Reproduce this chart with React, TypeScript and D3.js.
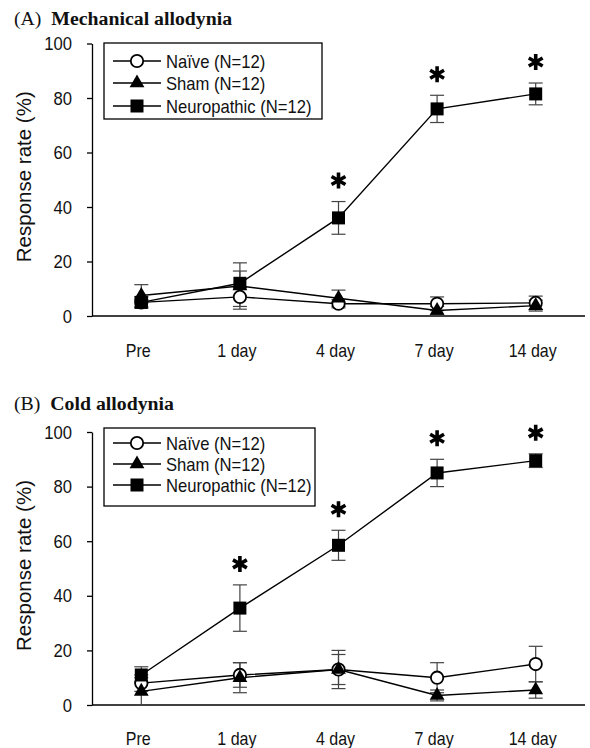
import React, { useRef, useEffect } from 'react';
import * as d3 from 'd3';

const days = ['Pre', '1 day', '4 day', '7 day', '14 day'];
const yTicks = [0, 20, 40, 60, 80, 100];
const groups = ['Naïve (N=12)', 'Sham (N=12)', 'Neuropathic (N=12)'];

// Panel A: mechanical allodynia
const mechNaive = [5, 7, 4.5, 4.5, 4.8];
const mechNaiveErr = [2, 3.5, 1.5, 2.5, 2.5];
const mechSham = [7.5, 11, 6.5, 2, 3.8];
const mechShamErr = [4, 8.5, 3, 1.5, 2];
const mechNeuro = [5, 12, 36, 76, 81.5];
const mechNeuroErr = [2, 4.5, 6, 5, 4];
const mechStars = [false, false, true, true, true];

// Panel B: cold allodynia
const coldNaive = [8, 11, 13, 10, 15];
const coldNaiveErr = [3, 4.5, 7, 5.5, 6.5];
const coldSham = [5, 10, 13, 3.5, 5.5];
const coldShamErr = [5, 5.5, 5.5, 2, 3];
const coldNeuro = [11, 35.5, 58.5, 85, 89.5];
const coldNeuroErr = [3, 8.5, 5.5, 5, 2.5];
const coldStars = [false, true, true, true, true];

type Series = { values: number[]; err: number[]; shape: string };

const App = () => {
    const svgRef = useRef<SVGSVGElement>(null);

    useEffect(() => {
        document.body.style.margin = '0';
        const svg = d3.select(svgRef.current);
        svg.selectAll('*').remove();

        const panels = [
            {
                tag: '(A)', title: 'Mechanical allodynia', titleY: 25,
                top: 43.5, bottom: 316, legend: { x: 104, y: 43, w: 218, h: 76, rows: [61, 83, 106] },
                series: [
                    { values: mechNaive, err: mechNaiveErr, shape: 'circle' },
                    { values: mechSham, err: mechShamErr, shape: 'triangle' },
                    { values: mechNeuro, err: mechNeuroErr, shape: 'square' },
                ] as Series[],
                stars: mechStars, labelY: 357,
            },
            {
                tag: '(B)', title: 'Cold allodynia', titleY: 410,
                top: 432, bottom: 705, legend: { x: 104, y: 428, w: 211, h: 78, rows: [443, 464, 485] },
                series: [
                    { values: coldNaive, err: coldNaiveErr, shape: 'circle' },
                    { values: coldSham, err: coldShamErr, shape: 'triangle' },
                    { values: coldNeuro, err: coldNeuroErr, shape: 'square' },
                ] as Series[],
                stars: coldStars, labelY: 745,
            },
        ];

        const left = 92;
        const right = 585;
        const x = d3.scalePoint().domain(days).range([left, right]).padding(0.5);
        const sans = 'Liberation Sans, Arial, sans-serif';

        // narrow-looking sans text, like the original figure
        const label = (g: any, tx: number, ty: number, str: string, size: number, sx: number, anchor = 'start') =>
            g.append('text').attr('transform', `translate(${tx},${ty}) scale(${sx},1)`)
                .attr('text-anchor', anchor).attr('font-family', sans)
                .attr('font-size', size).attr('fill', '#111').text(str);

        const drawMarker = (g: any, shape: string, cx: number, cy: number) => {
            if (shape === 'circle') {
                g.append('circle').attr('cx', cx).attr('cy', cy).attr('r', 6.2)
                    .attr('fill', '#fff').attr('stroke', '#000').attr('stroke-width', 1.8);
            } else if (shape === 'triangle') {
                g.append('path').attr('transform', `translate(${cx},${cy})`)
                    .attr('d', d3.symbol().type(d3.symbolTriangle).size(95)())
                    .attr('fill', '#000');
            } else {
                g.append('rect').attr('x', cx - 6.5).attr('y', cy - 6.5)
                    .attr('width', 13).attr('height', 13).attr('fill', '#000');
            }
        };

        const drawStar = (g: any, cx: number, cy: number) => {
            const r = 8;
            const p = d3.path();
            [90, 30, -30].forEach(a => {
                const rad = (a * Math.PI) / 180;
                p.moveTo(cx + r * Math.cos(rad), cy - r * Math.sin(rad));
                p.lineTo(cx - r * Math.cos(rad), cy + r * Math.sin(rad));
            });
            g.append('path').attr('d', p.toString()).attr('stroke', '#000')
                .attr('stroke-width', 3.6).attr('fill', 'none');
        };

        panels.forEach(p => {
            const y = d3.scaleLinear().domain([0, 100]).range([p.bottom, p.top]);
            const g = svg.append('g');

            // Title
            const t = g.append('text').attr('x', 14).attr('y', p.titleY)
                .attr('font-family', 'Liberation Serif, Times New Roman, serif')
                .attr('font-size', 19.8).attr('fill', '#111');
            t.append('tspan').text(p.tag + '\u00a0 ');
            t.append('tspan').attr('font-weight', 'bold').text(p.title);

            // Y axis
            g.append('g')
                .attr('transform', `translate(${left},0)`)
                .call(d3.axisLeft(y).tickValues(yTicks).tickSize(5).tickSizeOuter(0).tickFormat(() => ''))
                .call(a => a.select('.domain').attr('stroke-width', 1.3))
                .call(a => a.selectAll('line').attr('stroke-width', 1.3));

            yTicks.forEach(v => label(g, left - 20, y(v) + 6.5, String(v), 18.5, 0.9, 'end'));

            // X axis line
            g.append('line').attr('x1', left).attr('x2', right)
                .attr('y1', p.bottom).attr('y2', p.bottom)
                .attr('stroke', '#000').attr('stroke-width', 1.3);

            days.forEach(d => label(g, x(d)! - 3, p.labelY, d, 18, 0.89, 'middle'));

            // Y label
            g.append('text')
                .attr('transform', `translate(31,${(p.top + p.bottom) / 2 - 3}) rotate(-90)`)
                .attr('text-anchor', 'middle').attr('font-family', sans)
                .attr('font-size', 20.5).attr('fill', '#111').text('Response rate (%)');

            // Error bars
            p.series.forEach(s => {
                s.values.forEach((v, i) => {
                    const cx = x(days[i])!;
                    const hi = y(v + s.err[i]);
                    const lo = y(Math.max(0, v - s.err[i]));
                    const eg = g.append('g').attr('stroke', '#444').attr('stroke-width', 1.2);
                    eg.append('line').attr('x1', cx).attr('x2', cx).attr('y1', hi).attr('y2', lo);
                    eg.append('line').attr('x1', cx - 7).attr('x2', cx + 7).attr('y1', hi).attr('y2', hi);
                    eg.append('line').attr('x1', cx - 7).attr('x2', cx + 7).attr('y1', lo).attr('y2', lo);
                });
            });

            // Lines
            const line = d3.line<number>().x((_, i) => x(days[i])!).y(v => y(v));
            p.series.forEach(s => {
                g.append('path').attr('d', line(s.values)!).attr('fill', 'none')
                    .attr('stroke', '#000').attr('stroke-width', 1.4);
            });

            // Markers
            p.series.forEach(s => {
                s.values.forEach((v, i) => drawMarker(g, s.shape, x(days[i])!, y(v)));
            });

            // Significance stars
            const neuro = p.series[2];
            p.stars.forEach((st, i) => {
                if (!st) return;
                drawStar(g, x(days[i])!, y(neuro.values[i] + neuro.err[i]) - 21);
            });

            // Legend
            const L = p.legend;
            g.append('rect').attr('x', L.x).attr('y', L.y).attr('width', L.w).attr('height', L.h)
                .attr('fill', '#fff').attr('stroke', '#000').attr('stroke-width', 1.3);
            groups.forEach((name, i) => {
                const ry = L.rows[i];
                g.append('line').attr('x1', L.x + 9).attr('x2', L.x + 57)
                    .attr('y1', ry).attr('y2', ry).attr('stroke', '#000').attr('stroke-width', 1.4);
                drawMarker(g, p.series[i].shape, L.x + 33, ry);
                label(g, L.x + 62, ry + 7, name, 19, 0.875);
            });
        });
    }, []);

    return <svg ref={svgRef} width={590} height={748} style={{ display: 'block', background: '#fff' }} />;
};

export default App;
